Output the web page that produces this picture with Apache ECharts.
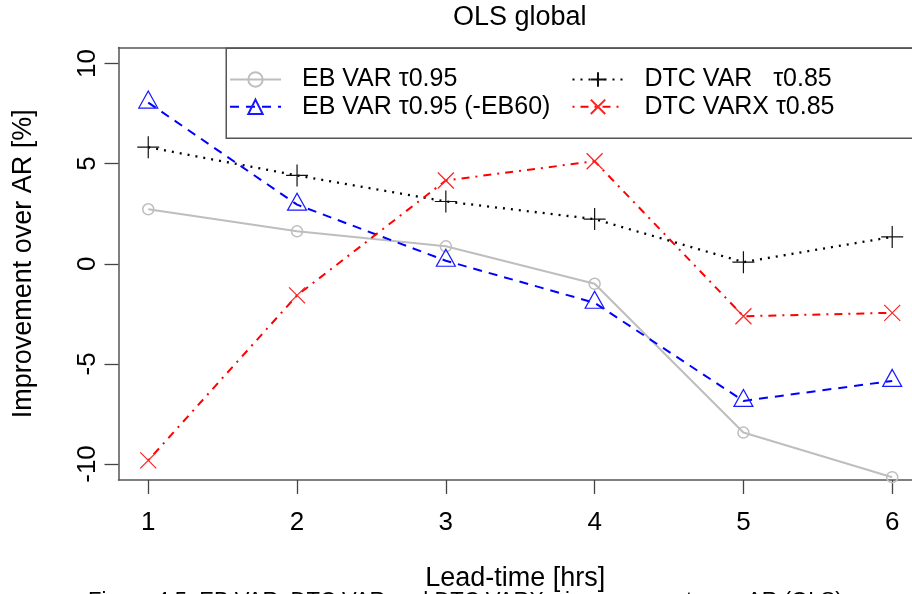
<!DOCTYPE html>
<html>
<head>
<meta charset="utf-8">
<script src="https://cdn.jsdelivr.net/npm/echarts@6/dist/echarts.min.js"></script>
<style>html,body{margin:0;padding:0;background:#fff;}#c{width:912px;height:594px;}</style>
</head>
<body>
<div id="c"></div>
<script>
// ---- data ----
const leadTime = [1, 2, 3, 4, 5, 6];
const xTicks = [1, 2, 3, 4, 5, 6];
const yTicks = [-10, -5, 0, 5, 10];
const ebVar      = [2.72, 1.62, 0.87, -1.00, -8.43, -10.66];
const ebVarEB60  = [8.05, 2.95, 0.15, -1.95, -6.85, -5.85];
const dtcVar     = [5.82, 4.41, 3.11, 2.23, 0.08, 1.34];
const dtcVarx    = [-9.82, -1.58, 4.16, 5.12, -2.62, -2.45];
const names = ['EB VAR τ0.95', 'EB VAR τ0.95 (-EB60)', 'DTC VAR   τ0.85', 'DTC VARX τ0.85'];

const pairs = v => leadTime.map((x, i) => [x, v[i]]);
const FONT = '"Liberation Sans", Arial, sans-serif';
const FRAME = {show: true, onZero: false, lineStyle: {color: '#555', width: 1.5}};

const chart = echarts.init(document.getElementById('c'), null, {renderer: 'canvas'});
const legendText = {fontFamily: FONT, fontSize: 25, color: '#000', lineHeight: 25, padding: [0, 0, 0, 16]};
chart.setOption({
  animation: false,
  backgroundColor: '#fff',
  title: {
    text: 'OLS global', left: 453, top: 4, padding: 0,
    textStyle: {fontFamily: FONT, fontSize: 27, fontWeight: 'normal', color: '#000'}
  },
  // plot region visible part: x from 0.8 to the canvas edge (R's box continues past it)
  grid: {left: 118.5, top: 47.5, width: 793.5, height: 432.5, show: false,
         outerBoundsMode: 'none', containLabel: false},
  legend: [
    {data: [names[0], names[1]], orient: 'vertical', left: 229, top: 67, padding: 0,
     itemWidth: 51, itemHeight: 18, itemGap: 2.3, selectedMode: false, textStyle: legendText},
    {data: [names[2], names[3]], orient: 'vertical', left: 571.5, top: 67, padding: 0,
     itemWidth: 51, itemHeight: 18, itemGap: 2.3, selectedMode: false, textStyle: legendText}
  ],
  xAxis: [{
    type: 'value', min: 0.8, max: 6.133, position: 'bottom',
    name: 'Lead-time [hrs]', nameLocation: 'middle', nameGap: 85,
    nameTextStyle: {fontFamily: FONT, fontSize: 27, color: '#000'},
    axisLine: FRAME,
    axisTick: {show: true, length: 14, lineStyle: {color: '#444', width: 1.3}, customValues: xTicks},
    axisLabel: {fontFamily: FONT, fontSize: 26, color: '#000', margin: 30, customValues: xTicks},
    splitLine: {show: false}
  }, {
    type: 'value', min: 0.8, max: 6.133, position: 'top',
    axisLine: FRAME, axisTick: {show: false}, axisLabel: {show: false}, splitLine: {show: false}
  }],
  yAxis: {
    type: 'value', min: -10.8, max: 10.8,
    name: 'Improvement over AR [%]', nameLocation: 'middle', nameGap: 81,
    nameTextStyle: {fontFamily: FONT, fontSize: 27, color: '#000'},
    axisLine: FRAME,
    axisTick: {show: true, length: 14, lineStyle: {color: '#444', width: 1.3}, customValues: yTicks},
    axisLabel: {fontFamily: FONT, fontSize: 26, color: '#000', margin: 18, rotate: 90, customValues: yTicks},
    splitLine: {show: false}
  },
  series: [
    {name: names[0], type: 'line', data: pairs(ebVar),
     symbol: 'circle', symbolSize: 11,
     itemStyle: {color: 'rgba(0,0,0,0)', borderColor: '#bebebe', borderWidth: 1.5},
     lineStyle: {color: '#bebebe', width: 2, type: 'solid'}, emphasis: {disabled: true}, z: 2},
    {name: names[1], type: 'line', data: pairs(ebVarEB60),
     symbol: 'triangle', symbolSize: [19, 17], symbolOffset: [0, -3],
     itemStyle: {color: 'rgba(0,0,0,0)', borderColor: '#1a1aff', borderWidth: 1.2},
     lineStyle: {color: '#0000ff', width: 2, type: [9, 7]}, emphasis: {disabled: true}, z: 3},
    {name: names[2], type: 'line', data: pairs(dtcVar),
     symbol: 'path://M0,10 L20,10 M10,0 L10,20', symbolSize: 22,
     itemStyle: {color: 'rgba(0,0,0,0)', borderColor: '#111', borderWidth: 1.2},
     lineStyle: {color: '#000', width: 2.3, type: [2, 6]}, emphasis: {disabled: true}, z: 4},
    {name: names[3], type: 'line', data: pairs(dtcVarx),
     symbol: 'path://M0,0 L20,20 M20,0 L0,20', symbolSize: 16,
     itemStyle: {color: 'rgba(0,0,0,0)', borderColor: '#ff2020', borderWidth: 1.2},
     lineStyle: {color: '#ff0000', width: 2, type: [2, 6, 8, 6]}, emphasis: {disabled: true}, z: 5}
  ],
  graphic: [
    {type: 'rect', left: 225.5, top: 47.5, z: 10, silent: true,
     shape: {width: 700, height: 90},
     style: {fill: 'transparent', stroke: '#555', lineWidth: 1.5}},
    {type: 'text', left: 88, top: 590, silent: true,
     style: {text: 'Figure 4.5: EB VAR, DTC VAR and DTC VARX τ improvement over AR (OLS)',
             font: '22px "Liberation Sans", Arial, sans-serif', fill: '#000'}}
  ]
});
</script>
</body>
</html>
